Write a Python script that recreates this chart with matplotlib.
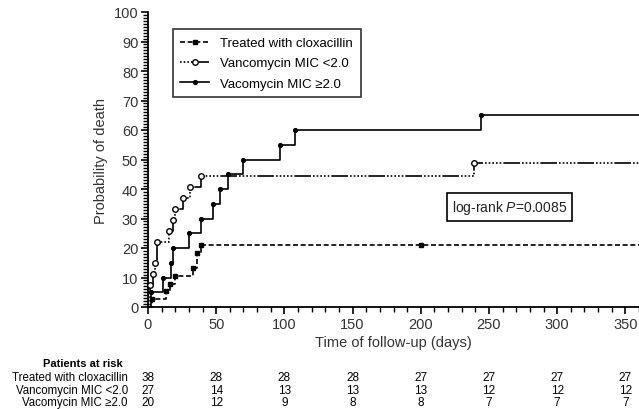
import matplotlib
matplotlib.use("Agg")
import matplotlib.pyplot as plt
import matplotlib.transforms as mtransforms
from matplotlib.lines import Line2D
from matplotlib.ticker import MultipleLocator

plt.rcParams['font.family'] = ['Liberation Sans', 'DejaVu Sans']
plt.rcParams['mathtext.fontset'] = 'custom'
plt.rcParams['mathtext.rm'] = 'Liberation Sans'
plt.rcParams['mathtext.it'] = 'Liberation Sans:italic'

# step curves (days, % dead)
clox_t = [0, 3, 13, 16, 20, 33, 36, 39]
clox_y = [0, 2.6, 5.3, 7.9, 10.5, 13.2, 18.4, 21.1]
clox_cens_t = [200]
clox_cens_y = [21.1]

miclo_t = [0, 1.5, 4, 5, 6.7, 15.6, 18, 20, 26, 31, 39, 239]
miclo_y = [0, 7.4, 11.1, 14.8, 22.2, 25.9, 29.6, 33.3, 37.0, 40.7, 44.4, 48.7]

michi_t = [0, 2, 11, 17, 18.6, 30, 39, 48, 53, 59, 70, 97, 108, 244]
michi_y = [0, 5, 10, 15, 20, 25, 30, 35, 40, 45, 50, 55, 60, 65]

t_end = 360

labels = ["Treated with cloxacillin", "Vancomycin MIC <2.0", "Vacomycin MIC \u22652.0"]
risk_times = [0, 50, 100, 150, 200, 250, 300, 350]
risk_clox = [38, 28, 28, 28, 27, 27, 27, 27]
risk_miclo = [27, 14, 13, 13, 13, 12, 12, 12]
risk_michi = [20, 12, 9, 8, 8, 7, 7, 7]

fig = plt.figure(figsize=(6.39, 4.10), dpi=100)
ax = fig.add_axes([148/639, 1 - 308/410, 491/639, 295/410])

# dotted run followed by a solid run
dotdash = (11.2, (10, 1.2, 1, 1.2, 1, 1.2, 1, 1.2, 1, 1.2, 1, 1.2))
styles = [
    dict(ls=(0, (3, 1.6)), marker='s', mfc='black', ms=3.3),
    dict(ls=dotdash, marker='o', mfc='white', ms=4),
    dict(ls='-', marker='o', mfc='black', ms=2.7),
]
curves = [(clox_t, clox_y), (miclo_t, miclo_y), (michi_t, michi_y)]

handles = []
for (t, y), st, lab in zip(curves, styles, labels):
    ax.step(t + [t_end], y + [y[-1]], where='post', color='black',
            lw=1.2, ls=st['ls'], clip_on=False, zorder=3)
    ax.plot(t[1:], y[1:], ls='none', marker=st['marker'], mfc=st['mfc'],
            mec='black', mew=1, ms=st['ms'], clip_on=False, zorder=4)
    handles.append(Line2D([], [], color='black', lw=1.2, ls=st['ls'],
                          marker=st['marker'], mfc=st['mfc'], mec='black',
                          mew=1, ms=st['ms'], label=lab))
ax.plot(clox_cens_t, clox_cens_y, ls='none', marker='s', mfc='black',
        mec='black', ms=3, zorder=4)

ax.set_xlim(0, t_end)
ax.set_ylim(0, 100)
for s in ['top', 'right']:
    ax.spines[s].set_visible(False)
for s in ['left', 'bottom']:
    ax.spines[s].set_linewidth(1.3)

ax.xaxis.set_major_locator(MultipleLocator(50))
ax.xaxis.set_minor_locator(MultipleLocator(10))
ax.yaxis.set_major_locator(MultipleLocator(10))
ax.yaxis.set_minor_locator(MultipleLocator(1))
ax.tick_params(which='major', direction='out', length=5, width=1.2,
               labelsize=10.5, colors='black', labelcolor='#333333', pad=2)
ax.tick_params(which='minor', direction='out', length=3.5, width=1)

ax.set_xlabel("Time of follow-up (days)", fontsize=10.5, color='#333333', labelpad=3)
ax.set_ylabel("Probability of death", fontsize=10.5, color='#333333', labelpad=4)

leg = ax.legend(handles=handles, loc='upper left', bbox_to_anchor=(0.05, 0.942),
                borderaxespad=0, fontsize=9.5, frameon=True, fancybox=False,
                edgecolor='black', handlelength=2.2, borderpad=0.6,
                labelspacing=0.6)
leg.get_frame().set_linewidth(1.2)

ax.text(265, 34, "log-rank $P$=0.0085", fontsize=10, ha='center', va='center',
        color='#222222',
        bbox=dict(boxstyle='square,pad=0.35', fc='white', ec='black', lw=1.2))

# patients at risk table
tr = mtransforms.blended_transform_factory(ax.transData, fig.transFigure)
fig.text(123/639, 1 - 364/410, "Patients at risk", fontsize=8, fontweight='bold',
         ha='right', va='center')
rows = [risk_clox, risk_miclo, risk_michi]
row_y = [378, 391, 403]
for lab, vals, yp in zip(labels, rows, row_y):
    fig.text(128/639, 1 - yp/410, lab, fontsize=8.3, ha='right', va='center')
    for tt, v in zip(risk_times, vals):
        fig.text(tt, 1 - yp/410, str(v), transform=tr, fontsize=8.5,
                 ha='center', va='center')

fig.savefig("out.png", dpi=100)
